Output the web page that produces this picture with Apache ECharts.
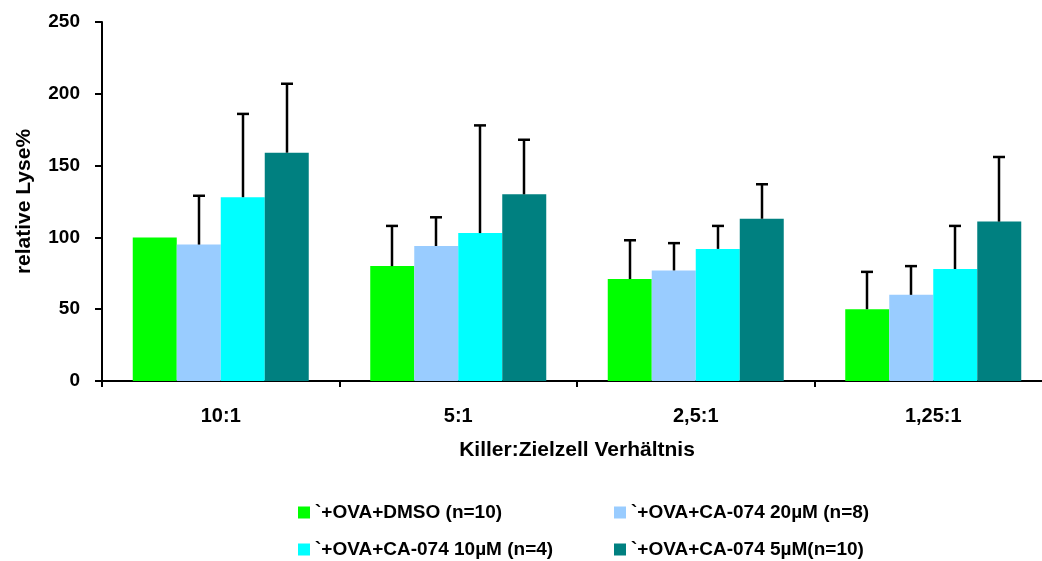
<!DOCTYPE html>
<html>
<head>
<meta charset="utf-8">
<script src="https://cdn.jsdelivr.net/npm/echarts@6/dist/echarts.min.js"></script>
<style>
  html, body { margin: 0; padding: 0; background: #fff; overflow: hidden; }
  #main { width: 1060px; height: 561px; }
</style>
</head>
<body>
<div id="main"></div>
<script>
// data
const categories = ['10:1', '5:1', '2,5:1', '1,25:1'];
const seriesNames = ['`+OVA+DMSO (n=10)', '`+OVA+CA-074 20µM (n=8)', '`+OVA+CA-074 10µM (n=4)', '`+OVA+CA-074 5µM(n=10)'];
const dmso = [100, 80, 71, 50];
const ca20 = [95, 94, 77, 60];
const ca10 = [128, 103, 92, 78];
const ca5 = [159, 130, 113, 111];
// upper error (SD)
const dmsoErr = [0, 28, 27, 26];
const ca20Err = [34, 20, 19, 20];
const ca10Err = [58, 75, 16, 30];
const ca5Err = [48, 38, 24, 45];
const yTicks = [0, 50, 100, 150, 200, 250];

const colors = ['#00ff00', '#99ccff', '#00ffff', '#008080'];
const barW = 44;

const values = [dmso, ca20, ca10, ca5];
const errs = [dmsoErr, ca20Err, ca10Err, ca5Err];

let errData = [];
values.forEach(function (vals, s) {
  vals.forEach(function (v, i) {
    errData.push([i, v, s, errs[s][i]]);
  });
});

const chart = echarts.init(document.getElementById('main'));
const font = 'Liberation Sans, Arial, sans-serif';

function legendBox(names, left) {
  return {
    data: names,
    orient: 'vertical',
    left: left,
    top: 503,
    itemWidth: 12,
    itemHeight: 12,
    itemGap: 18,
    icon: 'rect',
    padding: 0,
    selectedMode: false,
    textStyle: { fontFamily: font, fontWeight: 'bold', fontSize: 19, color: '#000' }
  };
}

let option = {
  animation: false,
  color: colors,
  textStyle: { fontFamily: font },
  grid: { left: 102, top: 22, width: 950, bottom: 180 },
  legend: [
    legendBox([seriesNames[0], seriesNames[2]], 298),
    legendBox([seriesNames[1], seriesNames[3]], 614)
  ],
  xAxis: {
    type: 'category',
    data: categories,
    name: 'Killer:Zielzell Verhältnis',
    nameLocation: 'middle',
    nameGap: 59,
    nameTextStyle: { fontFamily: font, fontWeight: 'bold', fontSize: 21, color: '#000' },
    axisLine: { lineStyle: { color: '#000', width: 2 } },
    axisTick: { show: true, length: 6, lineStyle: { color: '#000', width: 2 } },
    axisLabel: { margin: 25, fontFamily: font, fontWeight: 'bold', fontSize: 20, color: '#000' },
    splitLine: { show: false }
  },
  yAxis: {
    type: 'value',
    min: yTicks[0],
    max: yTicks[yTicks.length - 1],
    interval: 50,
    name: 'relative Lyse%',
    nameLocation: 'middle',
    nameGap: 67,
    nameTextStyle: { fontFamily: font, fontWeight: 'bold', fontSize: 21, color: '#000' },
    axisLine: { show: true, lineStyle: { color: '#000', width: 2 } },
    axisTick: { show: true, length: 7, lineStyle: { color: '#000', width: 2 } },
    axisLabel: { margin: 22, fontFamily: font, fontWeight: 'bold', fontSize: 19, color: '#000' },
    splitLine: { show: false }
  },
  series: values.map(function (vals, s) {
    return {
      name: seriesNames[s],
      type: 'bar',
      data: vals,
      barWidth: barW,
      barGap: '0%',
      itemStyle: { color: colors[s] }
    };
  }).concat([{
    type: 'custom',
    name: 'err',
    z: 5,
    encode: { x: 0, y: 1 },
    data: errData,
    renderItem: function (params, api) {
      const e = api.value(3);
      if (!e) return null;
      const off = (api.value(2) - 1.5) * barW;
      const base = api.coord([api.value(0), api.value(1)]);
      const top = api.coord([api.value(0), api.value(1) + e]);
      const x = Math.round(base[0] + off);
      const st = { stroke: '#000', lineWidth: 2.5 };
      return {
        type: 'group',
        children: [
          { type: 'line', shape: { x1: x, y1: base[1], x2: x, y2: top[1] }, style: st },
          { type: 'line', shape: { x1: x - 6, y1: top[1], x2: x + 6, y2: top[1] }, style: st }
        ]
      };
    }
  }])
};

chart.setOption(option);
</script>
</body>
</html>
